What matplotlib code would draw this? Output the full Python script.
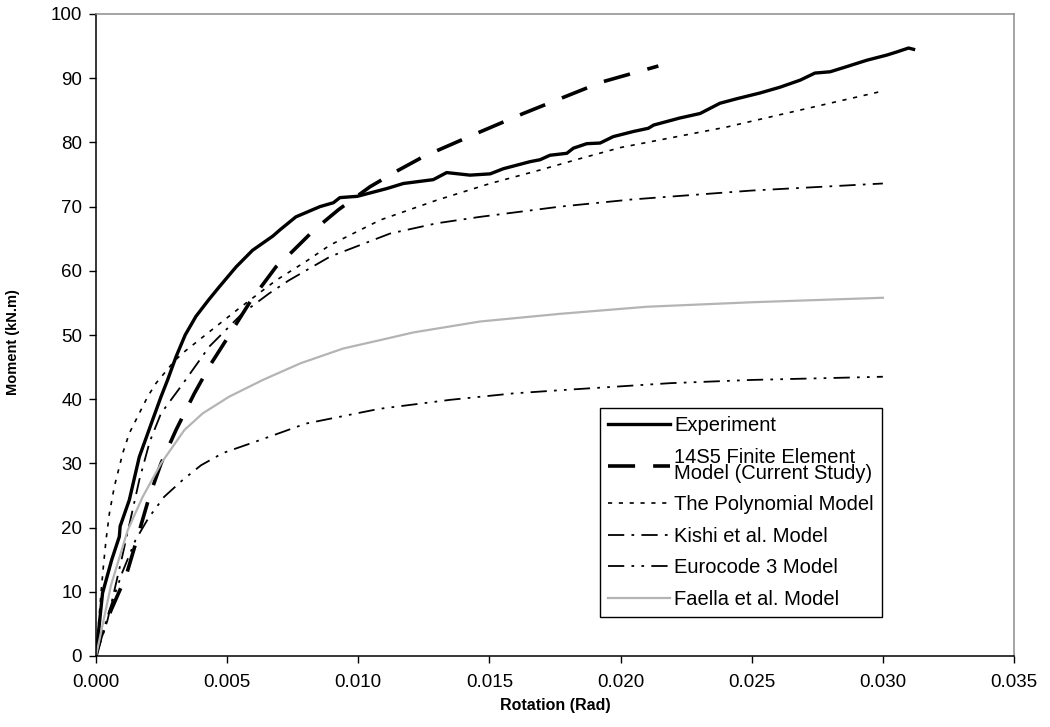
import matplotlib
matplotlib.use("Agg")
import matplotlib.pyplot as plt
from matplotlib.ticker import FormatStrFormatter

plt.rcParams['font.family'] = ['Liberation Sans', 'DejaVu Sans']

# ---- data (rotation in rad, moment in kN.m) ----
exp_rot = [0, 0.00025, 0.0006, 0.00089, 0.00092, 0.00127, 0.00165, 0.00216, 0.00248, 0.00273,
           0.00305, 0.0034, 0.00381, 0.0043, 0.0047, 0.00534, 0.00597, 0.00674, 0.00702, 0.00762, 0.00854,
           0.00905, 0.0093, 0.00996, 0.01108, 0.01172, 0.01286, 0.01337, 0.01426, 0.01503,
           0.01553, 0.01655, 0.01693, 0.01731, 0.01795, 0.0182, 0.01871, 0.01922, 0.01972,
           0.02049, 0.02106, 0.02126, 0.02226, 0.02303, 0.02379, 0.02443, 0.02532, 0.02608,
           0.02685, 0.02741, 0.02799, 0.02862, 0.02939, 0.03015, 0.03054, 0.03098, 0.03117]
exp_mom = [0, 9.8, 15.0, 18.6, 20.2, 24.3, 31.0, 36.8, 40.4, 43.0,
           46.6, 50.0, 52.9, 55.5, 57.5, 60.6, 63.2, 65.4, 66.4, 68.4, 70.0,
           70.6, 71.4, 71.6, 72.8, 73.6, 74.2, 75.3, 74.9, 75.1,
           75.9, 77.0, 77.3, 78.0, 78.3, 79.1, 79.8, 79.9, 80.9,
           81.7, 82.2, 82.7, 83.8, 84.5, 86.1, 86.8, 87.7, 88.6,
           89.7, 90.8, 91.0, 91.8, 92.8, 93.6, 94.1, 94.7, 94.5]

fe_rot = [0, 0.00019, 0.00057, 0.00114, 0.00159, 0.00203, 0.00248, 0.00305, 0.00375, 0.00435, 0.00496,
          0.00591, 0.00686, 0.00746, 0.0083, 0.00924, 0.01045, 0.0115, 0.01249, 0.01451, 0.01629, 0.01769,
          0.01928, 0.02144]
fe_mom = [0, 3.0, 7.1, 12.4, 18.6, 24.8, 30.0, 35.2, 40.9, 45.3, 49.2,
          55.4, 60.6, 62.9, 66.3, 69.5, 73.1, 75.6, 77.8, 81.4, 84.5, 86.8,
          89.4, 91.9]

poly_rot = [0, 0.00019, 0.00028, 0.00038, 0.00051, 0.0007, 0.00102, 0.00127, 0.00165, 0.00197,
            0.00229, 0.003, 0.0034, 0.00457, 0.00547, 0.00686, 0.00802, 0.00892, 0.01083,
            0.01299, 0.01503, 0.01693, 0.01839, 0.020, 0.02405, 0.025, 0.030]
poly_mom = [0, 9.8, 13.9, 18.0, 22.2, 26.4, 31.6, 34.7, 37.8, 40.4,
            42.5, 46.0, 47.5, 51.3, 54.2, 58.5, 61.5, 64.0, 67.9,
            71.0, 73.6, 75.7, 77.4, 79.2, 82.4, 83.3, 88.0]

kishi_rot = [0, 0.00044, 0.001, 0.00165, 0.00205, 0.00248, 0.00324, 0.00432, 0.00559, 0.00661, 0.00735,
             0.00892, 0.01121, 0.01299, 0.01464, 0.0177, 0.0204, 0.025, 0.030]
kishi_mom = [0, 5.6, 15.5, 27.4, 33.4, 37.8, 42.0, 48.2, 53.4, 56.5, 58.5,
             62.2, 65.8, 67.4, 68.4, 70.0, 71.1, 72.5, 73.6]

ec3_rot = [0, 0.0005, 0.001, 0.0015, 0.002, 0.0026, 0.0033, 0.004, 0.00483, 0.00623, 0.008, 0.0108,
           0.0135, 0.0159, 0.0177, 0.0219, 0.025, 0.030]
ec3_mom = [0, 7.0, 13.0, 18.0, 21.5, 24.8, 27.4, 29.7, 31.6, 33.6, 36.2, 38.5,
           39.9, 40.9, 41.4, 42.5, 43.0, 43.5]

fae_rot = [0, 0.00057, 0.00121, 0.00178, 0.00248, 0.00337, 0.00407, 0.00508, 0.00636, 0.0078,
           0.00943, 0.01083, 0.0121, 0.01464, 0.0177, 0.021, 0.025, 0.030]
fae_mom = [0, 11.0, 19.6, 24.8, 30.0, 35.2, 37.8, 40.4, 43.0, 45.6,
           47.9, 49.2, 50.4, 52.1, 53.3, 54.4, 55.1, 55.8]

labels = ["Experiment", "14S5 Finite Element\nModel (Current Study)", "The Polynomial Model",
          "Kishi et al. Model", "Eurocode 3 Model", "Faella et al. Model"]
x_ticks = [0.000, 0.005, 0.010, 0.015, 0.020, 0.025, 0.030, 0.035]
y_ticks = [0, 10, 20, 30, 40, 50, 60, 70, 80, 90, 100]

fig = plt.figure(figsize=(10.5, 7.27), dpi=100)
ax = fig.add_axes([96/1050, 71/727, 918/1050, 642/727])

ax.plot(exp_rot, exp_mom, color='black', lw=2.4, solid_joinstyle='round', label=labels[0])
ax.plot(fe_rot, fe_mom, color='black', lw=2.6, dashes=(7.5, 5), label=labels[1])
ax.plot(poly_rot, poly_mom, color='black', lw=1.2, dashes=(2.5, 4), label=labels[2])
ax.plot(kishi_rot, kishi_mom, color='black', lw=1.3, dashes=(9, 4, 1.5, 4), label=labels[3])
ax.plot(ec3_rot, ec3_mom, color='black', lw=1.3, dashes=(9, 4, 1.5, 4, 1.5, 4), label=labels[4])
ax.plot(fae_rot, fae_mom, color='#b4b4b4', lw=1.6, label=labels[5])

ax.set_xlim(0, 0.035)
ax.set_ylim(0, 100)
ax.set_xticks(x_ticks)
ax.set_yticks(y_ticks)
ax.xaxis.set_major_formatter(FormatStrFormatter('%.3f'))
ax.tick_params(direction='out', length=5, width=1, labelsize=13.5, pad=5)
ax.tick_params(axis='x', pad=8)

for s in ['left', 'bottom']:
    ax.spines[s].set_color('black')
    ax.spines[s].set_linewidth(1.1)
for s in ['top', 'right']:
    ax.spines[s].set_color('#8c8c8c')
    ax.spines[s].set_linewidth(1.1)

ax.set_xlabel("Rotation (Rad)", fontsize=11.5, fontweight='bold',
              family=['Liberation Sans Narrow', 'Liberation Sans'], labelpad=5)
ax.set_ylabel("Moment (kN.m)", fontsize=10.5, fontweight='bold',
              family=['Liberation Sans Narrow', 'Liberation Sans'])
ax.yaxis.set_label_coords(-0.083, 0.489)

leg = ax.legend(loc='upper left', bbox_to_anchor=(0.549, 0.386), borderaxespad=0,
                fontsize=14.5, frameon=True, fancybox=False, handlelength=3.1,
                handletextpad=0.2, labelspacing=0.62, borderpad=0.4)
for t in leg.get_texts():
    t.set_linespacing(0.8)
leg.get_frame().set_edgecolor('black')
leg.get_frame().set_linewidth(1.0)
leg.get_frame().set_alpha(1)

fig.savefig("out.png", dpi=100)
